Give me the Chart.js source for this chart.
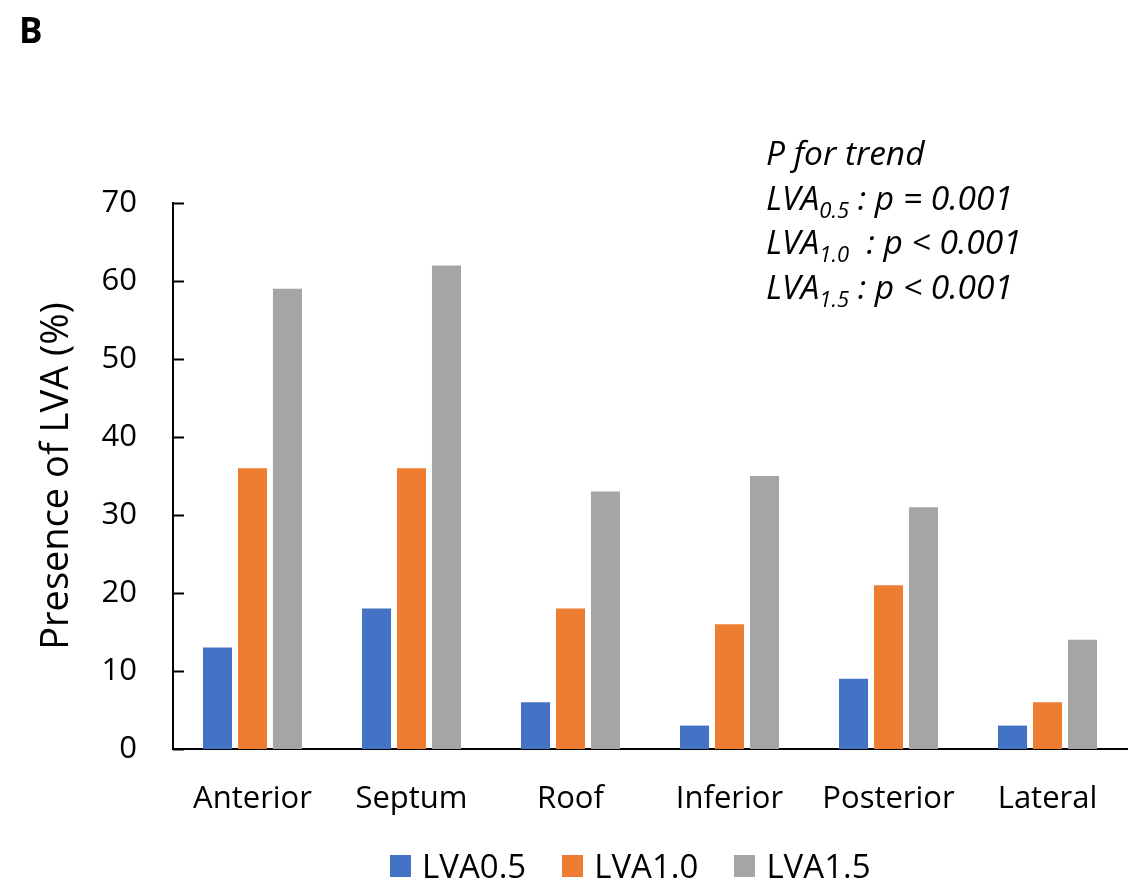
<!DOCTYPE html>
<html>
<head>
<meta charset="utf-8">
<script src="https://cdn.jsdelivr.net/npm/chart.js@4.4.0/dist/chart.umd.min.js"></script>
<style>
  html, body { margin: 0; padding: 0; background: #fff; }
  #wrap { position: relative; width: 1145px; height: 887px; }
  #letter { position: absolute; left: 19px; top: 6px; font: bold 35px "Open Sans", sans-serif; }
  #note { position: absolute; left: 766px; top: 130px; font: italic 33.5px "Open Sans", sans-serif; line-height: 44.5px; color: #000; }
  #note sub { font-size: 22px; line-height: 0; }
  #legend { position: absolute; left: 390px; top: 844px; display: flex; gap: 36px; font: 33px "Open Sans", sans-serif; color: #000; }
  #legend .item { display: flex; align-items: center; gap: 11px; line-height: 44px; }
  #legend .box { width: 21px; height: 22px; }
</style>
</head>
<body>
<div id="wrap">
  <canvas id="chart" width="1145" height="887"></canvas>
  <div id="letter">B</div>
  <div id="note">
    P for trend<br>
    LVA<sub>0.5</sub> : p = 0.001<br>
    LVA<sub>1.0</sub>&nbsp; : p &lt; 0.001<br>
    LVA<sub>1.5</sub> : p &lt; 0.001
  </div>
  <div id="legend"></div>
</div>
<script>
let categories = ['Anterior', 'Septum', 'Roof', 'Inferior', 'Posterior', 'Lateral'];
let seriesNames = ['LVA0.5', 'LVA1.0', 'LVA1.5'];
let lva05 = [13, 18, 6, 3, 9, 3];
let lva10 = [36, 36, 18, 16, 21, 6];
let lva15 = [59, 62, 33, 35, 31, 14];
let seriesColors = ['#4472c4', '#ed7d31', '#a5a5a5'];
let yTicks = [0, 10, 20, 30, 40, 50, 60, 70];

// short tick marks pointing into the plot, like the original
let innerTicks = {
    id: 'innerTicks',
    afterDraw(chart) {
        let ctx = chart.ctx;
        let y = chart.scales.y;
        ctx.save();
        ctx.strokeStyle = '#000';
        ctx.lineWidth = 2;
        ctx.beginPath();
        yTicks.forEach(function (t) {
            let py = Math.round(y.getPixelForValue(t)) + 0.5;
            ctx.moveTo(y.right, py);
            ctx.lineTo(y.right + 11, py);
        });
        ctx.stroke();
        ctx.restore();
    }
};

let ctx = document.getElementById('chart').getContext('2d');
let chart = new Chart(ctx, {
    type: 'bar',
    data: {
        labels: categories,
        datasets: [
            { label: seriesNames[0], data: lva05, backgroundColor: seriesColors[0] },
            { label: seriesNames[1], data: lva10, backgroundColor: seriesColors[1] },
            { label: seriesNames[2], data: lva15, backgroundColor: seriesColors[2] }
        ]
    },
    options: {
        responsive: false,
        animation: false,
        devicePixelRatio: 1,
        categoryPercentage: 0.66,
        barPercentage: 0.83,
        layout: { padding: { left: 30, right: 18, top: 203, bottom: 64 } },
        plugins: {
            legend: { display: false },
            tooltip: { enabled: false }
        },
        scales: {
            x: {
                grid: { display: false, drawTicks: false },
                border: { color: '#000', width: 2 },
                ticks: { color: '#000', font: { family: 'Open Sans', size: 31 }, padding: 32 },
                afterFit(scale) { scale.height = 74; }
            },
            y: {
                min: 0,
                max: 70,
                afterBuildTicks(scale) { scale.ticks = yTicks.map(v => ({ value: v })); },
                grid: { display: false, drawTicks: false },
                border: { color: '#000', width: 2 },
                ticks: { color: '#000', font: { family: 'Open Sans', size: 31 }, padding: 36 },
                title: {
                    display: true,
                    text: 'Presence of LVA (%)',
                    color: '#000',
                    font: { family: 'Open Sans', size: 38 },
                    padding: { bottom: 10 }
                },
                afterFit(scale) { scale.width = 143; }
            }
        }
    },
    plugins: [innerTicks]
});

// legend built from the chart's own datasets
let legendEl = document.getElementById('legend');
chart.data.datasets.forEach(function (ds) {
    let item = document.createElement('div');
    item.className = 'item';
    let box = document.createElement('span');
    box.className = 'box';
    box.style.background = ds.backgroundColor;
    let txt = document.createElement('span');
    txt.textContent = ds.label;
    item.appendChild(box);
    item.appendChild(txt);
    legendEl.appendChild(item);
});
</script>
</body>
</html>
